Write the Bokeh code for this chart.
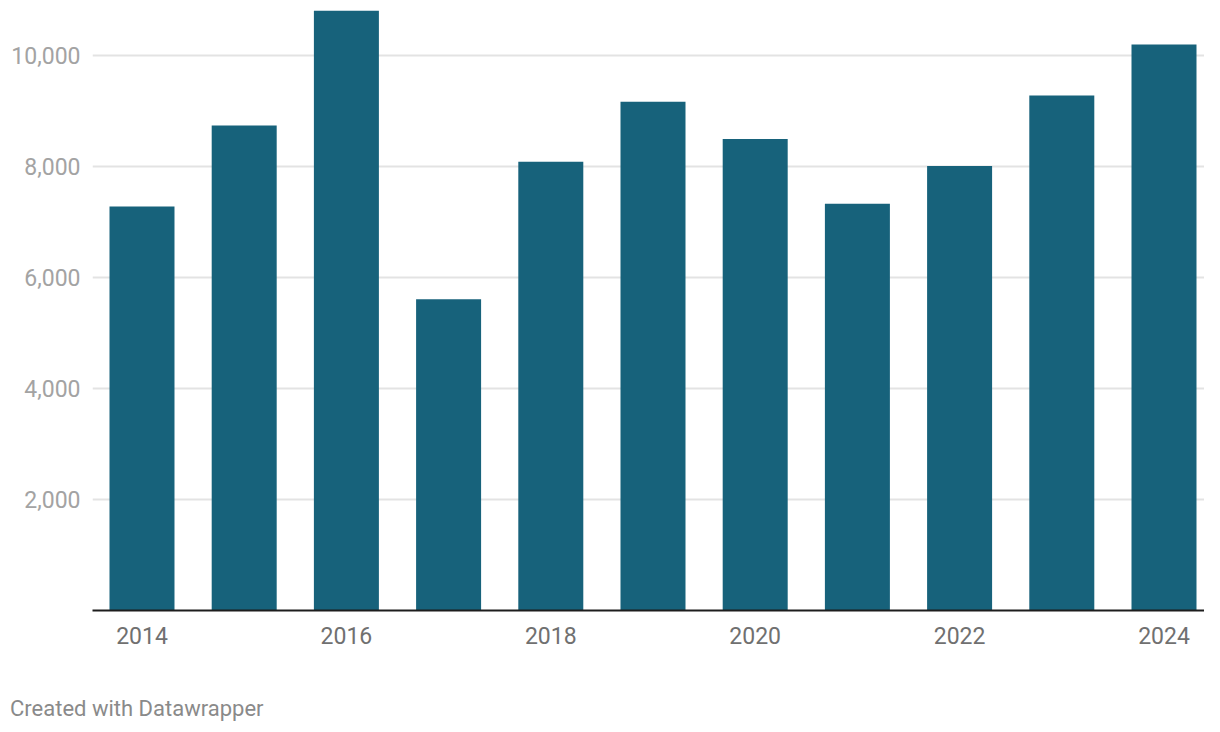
from bokeh.plotting import figure
from bokeh.layouts import column
from bokeh.models import FixedTicker, Range1d, NumeralTickFormatter, Div
from bokeh.embed import file_html
from bokeh.resources import INLINE

years = [2014, 2015, 2016, 2017, 2018, 2019, 2020, 2021, 2022, 2023, 2024]
values = [7280, 8740, 10810, 5610, 8090, 9170, 8500, 7330, 8010, 9280, 10200]
x_ticks = [2014, 2016, 2018, 2020, 2022, 2024]
y_ticks = [2000, 4000, 6000, 8000, 10000]
credit = "Created with Datawrapper"

p = figure(width=1204, height=692, output_backend="svg", toolbar_location=None,
           x_range=Range1d(2013.5157, 2024.3963), y_range=Range1d(0, 10850),
           min_border_left=92, min_border_right=0, min_border_top=8, min_border_bottom=82)
p.outline_line_color = None
p.background_fill_color = "white"
p.border_fill_color = "white"

p.vbar(x=years, top=values, width=0.636, color="#17627b", line_color=None)

p.xgrid.grid_line_color = None
p.ygrid.ticker = FixedTicker(ticks=y_ticks)
p.ygrid.grid_line_color = "#e3e3e3"
p.ygrid.grid_line_width = 2

p.yaxis.ticker = FixedTicker(ticks=y_ticks)
p.yaxis.formatter = NumeralTickFormatter(format="0,0")
p.yaxis.axis_line_color = None
p.yaxis.major_tick_line_color = None
p.yaxis.minor_tick_line_color = None
p.yaxis.major_tick_out = 0
p.yaxis.major_tick_in = 0
p.yaxis.major_label_standoff = 12
p.yaxis.major_label_text_font = "Roboto"
p.yaxis.major_label_text_font_size = "23px"
p.yaxis.major_label_text_color = "#a3a3a3"

p.xaxis.ticker = FixedTicker(ticks=x_ticks)
p.xaxis.axis_line_color = "#1d1d1d"
p.xaxis.axis_line_width = 2
p.xaxis.major_tick_line_color = None
p.xaxis.minor_tick_line_color = None
p.xaxis.major_tick_out = 0
p.xaxis.major_tick_in = 0
p.xaxis.major_label_standoff = 16
p.xaxis.major_label_text_font = "Roboto"
p.xaxis.major_label_text_font_size = "23px"
p.xaxis.major_label_text_color = "#707070"

div = Div(text=credit, width=1194, height=24, margin=(0, 0, 0, 10),
          styles={"font-family": "Roboto", "font-size": "22px",
                  "color": "#8a8a8a", "line-height": "34px"})

layout = column(p, div, spacing=0)
open("out.html", "w").write(file_html(layout, INLINE))
